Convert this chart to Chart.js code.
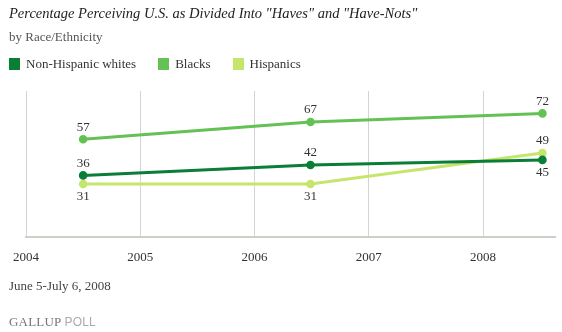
<!DOCTYPE html>
<html>
<head>
<meta charset="utf-8">
<script src="https://cdn.jsdelivr.net/npm/chart.js@4"></script>
<style>
  body { margin: 0; background: #fff; }
  #wrap { position: relative; width: 562px; height: 332px; overflow: hidden; font-family: "Liberation Serif", "DejaVu Serif", serif; color: #333; }
  #chart { position: absolute; left: 0; top: 0; }
  .t { position: absolute; white-space: nowrap; }
  #title { left: 9px; top: 5px; font-size: 14.5px; font-style: italic; color: #222; }
  #sub { left: 9px; top: 29px; font-size: 13px; color: #555; }
  #legend { left: 9px; top: 56px; font-size: 13px; }
  #legend span.item { display: inline-block; margin-right: 22px; }
  #legend i { display: inline-block; width: 11px; height: 12px; vertical-align: -2px; margin-right: 6px; }
  #note { left: 9px; top: 278px; font-size: 13px; color: #444; }
  #logo { left: 9px; top: 314px; font-size: 13px; color: #777; letter-spacing: 0.2px; }
  #logo b { font-weight: normal; font-family: "Liberation Sans", Arial, sans-serif; color: #aaa; font-size: 12px; }
</style>
</head>
<body>
<div id="wrap">
  <canvas id="chart" width="562" height="332"></canvas>
  <div class="t" id="title">Percentage Perceiving U.S. as Divided Into "Haves" and "Have-Nots"</div>
  <div class="t" id="sub">by Race/Ethnicity</div>
  <div class="t" id="legend"></div>
  <div class="t" id="note">June 5-July 6, 2008</div>
  <div class="t" id="logo">GALLUP <b>POLL</b></div>
</div>
<script>
// survey points (mid-year polls) and values
const surveyYears = [2004.5, 2006.49, 2008.52];
const tickYears = [2004, 2005, 2006, 2007, 2008];
const seriesNames = ['Non-Hispanic whites', 'Blacks', 'Hispanics'];
const whites = [36, 42, 45];
const blacks = [57, 67, 72];
const hispanics = [31, 31, 49];
const colors = ['#0a7d37', '#64c154', '#c6e56d'];

const allSeries = [whites, blacks, hispanics];

// legend
document.getElementById('legend').innerHTML = seriesNames.map((n, i) =>
  `<span class="item"><i style="background:${colors[i]}"></i>${n}</span>`).join('');

// value labels: below the point when it's the lowest at that date, otherwise above
const valueLabels = {
  id: 'valueLabels',
  afterDatasetsDraw(chart) {
    const ctx = chart.ctx;
    ctx.save();
    ctx.font = '13px "Liberation Serif", serif';
    ctx.fillStyle = '#333';
    ctx.textAlign = 'center';
    ctx.textBaseline = 'middle';
    chart.data.datasets.forEach((ds, i) => {
      chart.getDatasetMeta(i).data.forEach((pt, j) => {
        const v = allSeries[i][j];
        const lowest = Math.min(...allSeries.map(s => s[j]));
        const below = v === lowest;
        ctx.fillText(String(v), pt.x, pt.y + (below ? 13 : -12));
      });
    });
    ctx.restore();
  }
};

const ctx = document.getElementById('chart').getContext('2d');
new Chart(ctx, {
  type: 'line',
  data: {
    datasets: allSeries.map((s, i) => ({
      label: seriesNames[i],
      data: s.map((v, j) => ({ x: surveyYears[j], y: v })),
      borderColor: colors[i],
      backgroundColor: colors[i],
      borderWidth: 3,
      pointRadius: 2.8,
      pointHoverRadius: 2.8,
      tension: 0
    }))
  },
  options: {
    responsive: false,
    animation: false,
    layout: { padding: { left: 26, right: 7, top: 91, bottom: 55 } },
    plugins: { legend: { display: false }, tooltip: { enabled: false } },
    scales: {
      x: {
        type: 'linear',
        min: 2004,
        max: 2008.63,
        afterBuildTicks: (scale) => { scale.ticks = tickYears.map(v => ({ value: v })); },
        ticks: {
          padding: 12,
          color: '#333',
          font: { family: '"Liberation Serif", serif', size: 13 },
          callback: (v) => String(v)
        },
        grid: { color: '#d4d4d4', lineWidth: 1, drawTicks: false },
        border: { display: true, color: '#cfcfc8', width: 2 }
      },
      y: { display: false, min: 0, max: 85 }
    }
  },
  plugins: [valueLabels]
});
</script>
</body>
</html>
